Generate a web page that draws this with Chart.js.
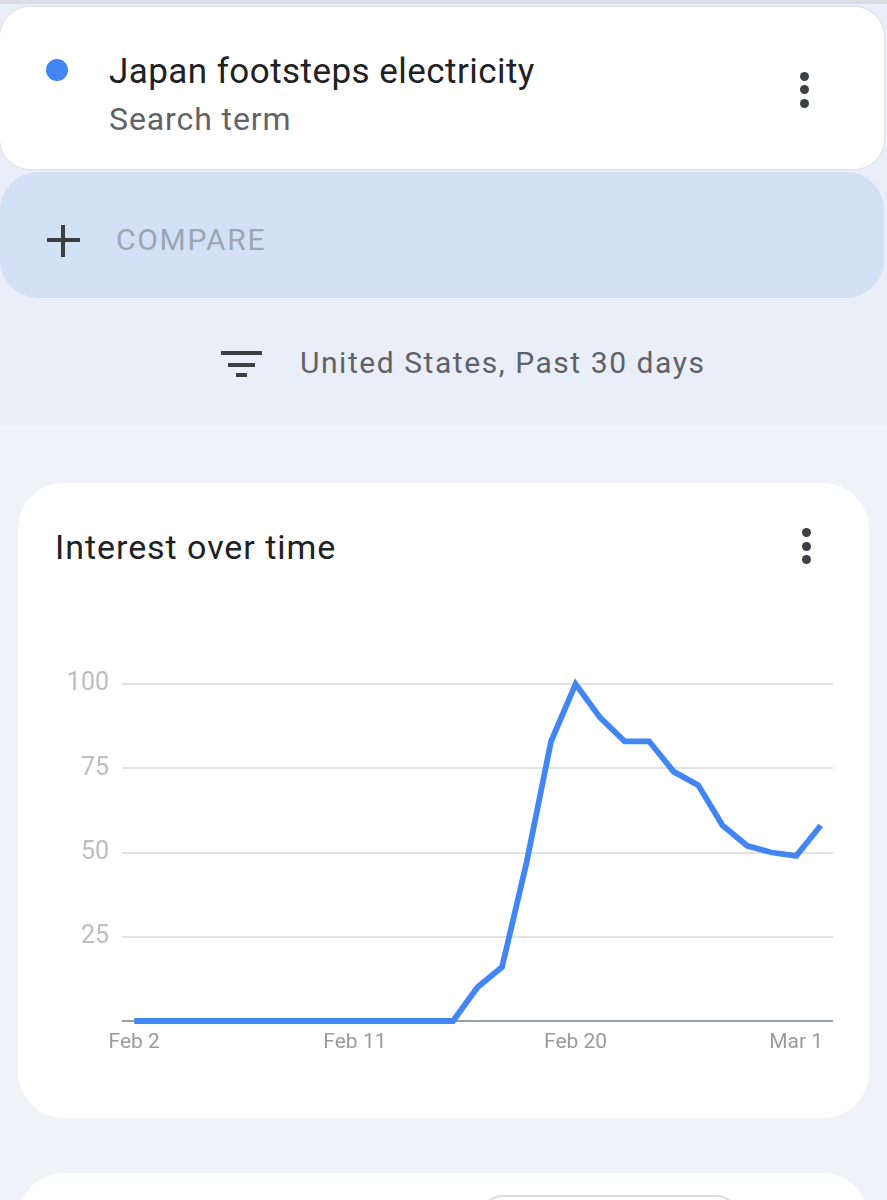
<!DOCTYPE html>
<html>
<head>
<meta charset="utf-8">
<script src="https://cdn.jsdelivr.net/npm/chart.js@4.4.1/dist/chart.umd.min.js"></script>
<style>
  html, body { margin: 0; padding: 0; }
  body { width: 887px; height: 1200px; background: #f1f2f7; position: relative; overflow: hidden; font-family: Roboto, "Noto Sans", sans-serif; }
  .abs { position: absolute; }
  .txt { position: absolute; line-height: 1; white-space: nowrap; }
  .dot { position: absolute; width: 9px; height: 9px; border-radius: 50%; background: #3c4043; }
  .bar { position: absolute; height: 4px; background: #3c4043; }
</style>
</head>
<body>
<!-- top section -->
<div class="abs" style="left:0;top:0;width:887px;height:425px;background:#e9eef8;"></div>
<div class="abs" style="left:0;top:0;width:887px;height:4px;background:#dcdee3;"></div>

<!-- search term card -->
<div class="abs" style="left:0;top:7px;width:884px;height:162px;background:#fff;border-radius:30px;box-shadow:0 0 0 1px #dde1e8;"></div>
<div class="abs" style="left:46px;top:59px;width:22px;height:22px;border-radius:50%;background:#4285f4;"></div>
<div class="txt" style="left:109px;top:54px;font-size:35px;letter-spacing:0.45px;color:#202124;">Japan footsteps electricity</div>
<div class="txt" style="left:109px;top:103px;font-size:32px;letter-spacing:0.9px;color:#5f6368;">Search term</div>
<div class="dot" style="left:800px;top:72px;"></div>
<div class="dot" style="left:800px;top:85px;"></div>
<div class="dot" style="left:800px;top:99px;"></div>

<!-- compare pill -->
<div class="abs" style="left:0;top:172px;width:884px;height:126px;background:#d3e0f5;border-radius:38px;"></div>
<div class="abs" style="left:47px;top:238px;width:33px;height:4px;background:#3c4043;"></div>
<div class="abs" style="left:61px;top:225px;width:4px;height:32px;background:#3c4043;"></div>
<div class="txt" style="left:116px;top:225px;font-size:30px;letter-spacing:1.7px;color:#9ca6b4;">COMPARE</div>

<!-- filter row -->
<div class="bar" style="left:221px;top:351px;width:41px;"></div>
<div class="bar" style="left:228px;top:363px;width:27px;"></div>
<div class="bar" style="left:236px;top:373px;width:11px;"></div>
<div class="txt" style="left:300px;top:348px;font-size:30px;letter-spacing:1.55px;color:#5f6368;">United States, Past 30 days</div>

<!-- interest over time card -->
<div class="abs" style="left:18px;top:483px;width:851px;height:635px;background:#fff;border-radius:46px;"></div>
<div class="txt" style="left:55px;top:530px;font-size:34px;letter-spacing:0.95px;color:#202124;">Interest over time</div>
<div class="dot" style="left:802px;top:528px;"></div>
<div class="dot" style="left:802px;top:542px;"></div>
<div class="dot" style="left:802px;top:555px;"></div>
<canvas id="chart" class="abs" width="820" height="420" style="left:40px;top:650px;"></canvas>

<!-- next card peeking in -->
<div class="abs" style="left:18px;top:1173px;width:851px;height:120px;background:#fff;border-radius:46px;"></div>
<div class="abs" style="left:482px;top:1195px;width:251px;height:40px;border:2px solid #dadce0;border-radius:20px;"></div>

<script>
const dates = ['Feb 2', 'Feb 3', 'Feb 4', 'Feb 5', 'Feb 6', 'Feb 7', 'Feb 8', 'Feb 9', 'Feb 10',
  'Feb 11', 'Feb 12', 'Feb 13', 'Feb 14', 'Feb 15', 'Feb 16', 'Feb 17', 'Feb 18', 'Feb 19',
  'Feb 20', 'Feb 21', 'Feb 22', 'Feb 23', 'Feb 24', 'Feb 25', 'Feb 26', 'Feb 27', 'Feb 28',
  'Mar 1', 'Mar 2'];
const interest = [0, 0, 0, 0, 0, 0, 0, 0, 0, 0, 0, 0, 0, 0,
  10, 16, 47, 83, 100, 90, 83, 83, 74, 70, 58, 52, 50, 49, 58];
const shownDates = ['Feb 2', 'Feb 11', 'Feb 20', 'Mar 1'];
const yTicks = [25, 50, 75, 100];

const ctx = document.getElementById('chart').getContext('2d');

new Chart(ctx, {
  type: 'line',
  data: {
    labels: dates,
    datasets: [{
      label: 'Japan footsteps electricity',
      data: interest,
      borderColor: '#4285f4',
      borderWidth: 5.8,
      pointRadius: 0,
      tension: 0,
      fill: false,
      clip: false
    }]
  },
  options: {
    responsive: false,
    animation: false,
    layout: { padding: { top: 34, right: 27, left: 0, bottom: 0 } },
    plugins: {
      legend: { display: false },
      tooltip: { enabled: false }
    },
    scales: {
      x: {
        offset: true,
        grid: { display: false, drawTicks: false },
        border: { display: false },
        ticks: {
          autoSkip: false,
          maxRotation: 0,
          padding: 9,
          color: '#9a9a9a',
          font: { family: 'Roboto', size: 21 },
          callback: function (value) {
            const lbl = this.getLabelForValue(value);
            return shownDates.includes(lbl) ? lbl : '';
          }
        },
        afterFit: function (scale) { scale.height = 49; }
      },
      y: {
        min: 0,
        max: 100,
        grid: {
          drawTicks: false,
          lineWidth: 2,
          color: function (c) { return c.tick && c.tick.value === 0 ? '#9aa0a6' : '#e2e2e2'; }
        },
        border: { display: false },
        ticks: {
          stepSize: 25,
          padding: 13,
          color: '#bdbdbd',
          font: { family: 'Roboto', size: 25 },
          callback: function (value) { return yTicks.includes(value) ? value : ''; }
        },
        afterFit: function (scale) { scale.width = 82; }
      }
    }
  }
});
</script>
</body>
</html>
